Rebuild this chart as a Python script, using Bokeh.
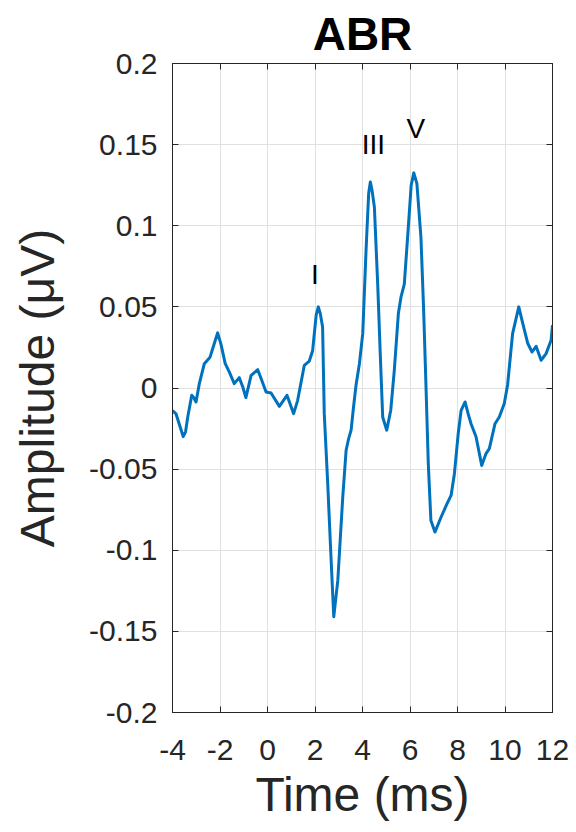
from bokeh.plotting import figure
from bokeh.models import Range1d, LinearAxis, FixedTicker, Label, CustomJSTickFormatter
from bokeh.embed import file_html
from bokeh.resources import INLINE

# ---- data ----
time_ms = [-4.0, -3.85, -3.7, -3.55, -3.45, -3.36, -3.19, -3.10, -3.01, -2.87,
           -2.66, -2.42, -2.25, -2.10, -1.96, -1.78, -1.61, -1.40, -1.19, -1.04,
           -0.91, -0.69, -0.41, -0.27, -0.06, 0.15, 0.50, 0.82, 1.10, 1.27,
           1.55, 1.76, 1.90, 2.05, 2.14, 2.22, 2.32, 2.39, 2.53, 2.66, 2.79,
           2.96, 3.06, 3.17, 3.31, 3.42, 3.52, 3.62, 3.73, 3.87, 4.01,
           4.15, 4.26, 4.33, 4.40, 4.50, 4.64, 4.75, 4.85, 5.02, 5.19,
           5.34, 5.51, 5.62, 5.76, 5.90, 6.05, 6.16, 6.29, 6.46, 6.57,
           6.67, 6.77, 6.88, 7.05, 7.31, 7.56, 7.73, 7.87, 8.03, 8.15,
           8.32, 8.45, 8.57, 8.78, 9.02, 9.20, 9.34, 9.58, 9.76, 9.97,
           10.11, 10.32, 10.58, 10.75, 10.96, 11.14, 11.31, 11.52, 11.73, 11.94,
           12.0]
amp_uv = [-0.014, -0.016, -0.023, -0.030, -0.027, -0.018, -0.0045, -0.006, -0.0086, 0.0027,
          0.015, 0.019, 0.027, 0.034, 0.027, 0.015, 0.0099, 0.0027, 0.0064, 0.0006,
          -0.0059, 0.0078, 0.0113, 0.0058, -0.0025, -0.0031, -0.0113, -0.0045, -0.0158, -0.0076,
          0.014, 0.0166, 0.023, 0.045, 0.050, 0.046, 0.0376, -0.0158, -0.057, -0.100, -0.141,
          -0.1186, -0.094, -0.067, -0.0384, -0.031, -0.026, -0.012, 0.002, 0.015, 0.0335,
          0.085, 0.120, 0.127, 0.122, 0.1116, 0.064, 0.020, -0.0179, -0.026, -0.0137,
          0.011, 0.0459, 0.056, 0.064, 0.093, 0.125, 0.1326, 0.126, 0.093, 0.050,
          0.0027, -0.0466, -0.0816, -0.0888, -0.0795, -0.0713, -0.0662, -0.0528, -0.0281, -0.014,
          -0.0086, -0.016, -0.022, -0.030, -0.0477, -0.0404, -0.0374, -0.022, -0.0179, -0.0096,
          0.002, 0.0335, 0.050, 0.0397, 0.0274, 0.0222, 0.0257, 0.0171, 0.0212, 0.0294,
          0.0387]

x_ticks = [-4, -2, 0, 2, 4, 6, 8, 10, 12]
x_tick_labels = ["-4", "-2", "0", "2", "4", "6", "8", "10", "12"]
y_ticks = [-0.2, -0.15, -0.1, -0.05, 0, 0.05, 0.1, 0.15, 0.2]
y_tick_labels = ["-0.2", "-0.15", "-0.1", "-0.05", "0", "0.05", "0.1", "0.15", "0.2"]

peak_names = ["I", "III", "V"]
peak_x = [2.0, 4.46, 6.25]
peak_y = [0.0701, 0.1498, 0.1601]

title_text = "ABR"
x_label = "Time (ms)"
y_label = "Amplitude (\u03bcV)"

FONT = "Liberation Sans"
AX = "#262626"

p = figure(width=576, height=832,
           x_range=Range1d(-4, 12), y_range=Range1d(-0.2, 0.2),
           output_backend="svg", toolbar_location=None,
           min_border_left=172, min_border_right=24,
           min_border_top=63, min_border_bottom=120)
p.outline_line_color = AX
p.outline_line_width = 1
p.background_fill_color = "white"
p.border_fill_color = "white"

p.line(time_ms, amp_uv, line_color="#0072BD", line_width=3, line_join="round")

# main axes
for ax, ticks, labels in ((p.xaxis[0], x_ticks, x_tick_labels), (p.yaxis[0], y_ticks, y_tick_labels)):
    ax.ticker = FixedTicker(ticks=ticks)
    ax.major_label_overrides = {t: l for t, l in zip(ticks, labels)}
    ax.major_tick_in = 6
    ax.major_tick_out = 0
    ax.minor_tick_in = 0
    ax.minor_tick_out = 0
    ax.axis_line_color = AX
    ax.major_tick_line_color = AX
    ax.major_label_text_font = FONT
    ax.major_label_text_font_size = "30px"
    ax.major_label_text_color = AX
    ax.axis_label_text_font = FONT
    ax.axis_label_text_font_size = "48px"
    ax.axis_label_text_font_style = "normal"
    ax.axis_label_text_color = AX

p.xaxis[0].axis_label = x_label
p.yaxis[0].axis_label = y_label
p.xaxis[0].major_label_standoff = 27
p.xaxis[0].axis_label_standoff = 5
p.yaxis[0].major_label_standoff = 15
p.yaxis[0].axis_label_standoff = 22

# box axes (top / right) with ticks only
for loc, ticks in (("above", x_ticks), ("right", y_ticks)):
    ax = LinearAxis(ticker=FixedTicker(ticks=ticks),
                    formatter=CustomJSTickFormatter(code="return ''"),
                    major_tick_in=6, major_tick_out=0,
                    minor_tick_in=0, minor_tick_out=0,
                    major_label_standoff=0,
                    major_label_text_font_size="1px",
                    axis_line_color=AX, major_tick_line_color=AX)
    p.add_layout(ax, loc)

p.xgrid.ticker = FixedTicker(ticks=x_ticks)
p.ygrid.ticker = FixedTicker(ticks=y_ticks)
p.grid.grid_line_color = "#e0e0e0"
p.grid.grid_line_width = 1

# title
p.title.text = title_text
p.title.align = "center"
p.title.text_font = FONT
p.title.text_font_size = "46px"
p.title.text_font_style = "bold"
p.title.text_color = "black"
p.title.standoff = 7

# peak labels
for name, px, py in zip(peak_names, peak_x, peak_y):
    p.add_layout(Label(x=px, y=py, text=name, text_align="center",
                       text_baseline="alphabetic", text_font=FONT,
                       text_font_size="28px", text_color="black"))

open("out.html", "w").write(file_html(p, INLINE))
